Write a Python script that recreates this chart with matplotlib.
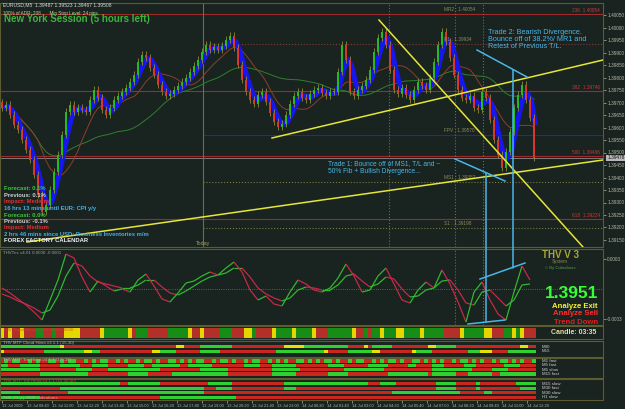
import itertools
import numpy as np
import pandas as pd
import matplotlib
matplotlib.use("Agg")
import matplotlib.pyplot as plt
from matplotlib.collections import LineCollection
from matplotlib.patches import ConnectionPatch

plt.rcParams['font.family'] = ['Liberation Sans', 'DejaVu Sans']

# ---- data (EURUSD, one bar = 20 min of the M5 chart) ----
closes = [1.39678, 1.39690, 1.39650, 1.39610, 1.39590, 1.39550, 1.39510, 1.39470, 1.39410, 1.39330,
          1.39262, 1.39290, 1.39350, 1.39422, 1.39490, 1.39570, 1.39662, 1.39690, 1.39662, 1.39678,
          1.39670, 1.39662, 1.39710, 1.39750, 1.39718, 1.39670, 1.39650, 1.39678, 1.39710, 1.39726,
          1.39742, 1.39758, 1.39782, 1.39810, 1.39862, 1.39890, 1.39878, 1.39838, 1.39810, 1.39770,
          1.39742, 1.39726, 1.39734, 1.39750, 1.39766, 1.39782, 1.39798, 1.39822, 1.39846, 1.39870,
          1.39902, 1.39930, 1.39910, 1.39922, 1.39910, 1.39926, 1.39950, 1.39966, 1.39918, 1.39850,
          1.39790, 1.39742, 1.39710, 1.39694, 1.39730, 1.39742, 1.39702, 1.39658, 1.39622, 1.39602,
          1.39614, 1.39650, 1.39694, 1.39726, 1.39742, 1.39718, 1.39710, 1.39734, 1.39750, 1.39758,
          1.39738, 1.39726, 1.39742, 1.39742, 1.39822, 1.39930, 1.39870, 1.39742, 1.39726, 1.39750,
          1.39766, 1.39790, 1.39830, 1.39902, 1.39958, 1.39982, 1.39930, 1.39830, 1.39750, 1.39734,
          1.39758, 1.39730, 1.39710, 1.39750, 1.39782, 1.39766, 1.39750, 1.39798, 1.39862, 1.39930,
          1.39982, 1.39942, 1.39878, 1.39810, 1.39750, 1.39718, 1.39710, 1.39726, 1.39678, 1.39670,
          1.39742, 1.39718, 1.39630, 1.39550, 1.39490, 1.39438, 1.39502, 1.39582, 1.39678, 1.39730,
          1.39770, 1.39710, 1.39638, 1.39478]
first_open = 1.39700

fib_levels = [("236", 1.40054), ("382", 1.39746), ("500", 1.39486), ("618", 1.39234)]
pivots = [("MR2", 1.40054, None), ("R1", 1.39934, ':'), ("FPV", 1.39570, '-'),
          ("MS1", 1.39382, ':'), ("S1", 1.39198, ':')]
today_bar = 50.25
session_bars = [96.75, 113.25, 120.25]

# trend lines (bar, price)
trend_lines = [((6.25, 1.39142), (150.25, 1.39470)),
               ((67.5, 1.39558), (150.25, 1.39870)),
               ((94.25, 1.40030), (145.25, 1.39122))]

# THV Trix, every second bar, in units of 0.00001
trix_fast = [1, -4, -10, -16, -23, -31, -11, 9, 35, 31, 12, -3, 8, 3, -2, 0, -3, 9, 15, 3,
             -10, -13, -4, 6, 8, 13, 17, 14, 21, 27, 17, -1, -11, -7, -15, -17, -3, 9, 5, -1,
             -3, 1, 11, 25, 13, -3, -1, 13, 21, 5, -11, -14, -1, 7, 1, 19, 5, -13, -33, -3,
             7, -11, -25, -31, -3, 23, 9]
trix_slow = [-5, -8, -12, -15, -19, -24, -21, -7, 13, 26, 23, 13, 7, 5, 3, 1, 1, 4, 9, 9,
             2, -4, -6, -2, 3, 8, 12, 14, 16, 21, 21, 12, 1, -5, -9, -12, -9, -1, 2, 1,
             -1, -1, 4, 13, 15, 8, 2, 5, 12, 10, 0, -8, -7, -1, 1, 8, 9, -1, -14, -16,
             -3, -1, -9, -17, -11, 4, 5]

strip_runs = [("Y", 1), ("R", 1), ("Y", 1), ("R", 2), ("Y", 1), ("R", 3), ("G", 2), ("R", 2), ("G", 1), ("R", 2),
              ("Y", 4), ("R", 5), ("Y", 1), ("G", 6), ("Y", 1), ("R", 1), ("G", 3), ("R", 5), ("G", 5), ("Y", 1),
              ("R", 2), ("Y", 1), ("R", 4), ("G", 3), ("R", 3), ("Y", 2), ("G", 1), ("R", 4), ("Y", 1), ("G", 4),
              ("Y", 1), ("G", 4), ("Y", 1), ("R", 3), ("G", 6), ("Y", 1), ("R", 2), ("G", 1), ("R", 1), ("G", 2),
              ("Y", 1), ("G", 3), ("Y", 2), ("G", 4), ("Y", 1), ("G", 5), ("R", 4), ("Y", 1), ("G", 5), ("Y", 2),
              ("R", 3), ("G", 2), ("Y", 1), ("G", 1), ("Y", 1), ("R", 3)]

cloud_rows = {
    "M30": [("G", 15), ("Y", 1), ("R", 28), ("Y", 2), ("R", 4), ("G", 8), ("R", 13), ("Y", 5), ("G", 11), ("R", 4),
            ("Y", 1), ("R", 1), ("G", 5), ("R", 9), ("Y", 2), ("G", 5), ("R", 16), ("Y", 2), ("R", 2)],
    "M15": [("Y", 1), ("R", 10), ("G", 10), ("Y", 2), ("G", 2), ("R", 13), ("Y", 2), ("G", 4), ("R", 6), ("G", 5),
            ("R", 14), ("G", 12), ("Y", 1), ("R", 5), ("G", 6), ("Y", 2), ("R", 8), ("Y", 1), ("G", 4), ("R", 9),
            ("G", 3), ("Y", 3), ("R", 4), ("G", 7)],
}

m1_fast = ("RGRGGRRGRG" "RRGGRGRGGR" "RGRGRGGRRG" "RGRRGRGGRG" "RRGGRGRGRG" "GRRGRGGRGR" "RGRGGRRGRG"
           "RGRRGGRGRG" "RGGRGRRGRG" "GRRGRGRGGR" "GRRGGRGRGR" "GRRGRGGRGR" "GRRGRGGRGR" "GRRG")
trix_rows_a = {
    "M1 fast": [(k, len(list(g))) for k, g in itertools.groupby(m1_fast)],
    "M5 fast": [("G", 2), ("R", 3), ("G", 5), ("R", 5), ("G", 5), ("R", 3), ("G", 4), ("R", 5), ("G", 4), ("R", 2),
                ("G", 7), ("R", 2), ("G", 6), ("R", 8), ("G", 4), ("R", 3), ("G", 6), ("R", 8), ("G", 4), ("R", 6),
                ("G", 5), ("R", 5), ("G", 2), ("R", 4), ("G", 3), ("R", 5), ("G", 3), ("R", 7), ("G", 4), ("R", 4)],
    "M5 slow": [("G", 10), ("R", 9), ("G", 4), ("R", 4), ("G", 13), ("R", 10), ("G", 7), ("R", 11), ("G", 7), ("R", 11),
                ("G", 10), ("R", 12), ("G", 10), ("R", 5), ("G", 4), ("R", 7)],
    "M15 fast": [("R", 10), ("G", 12), ("R", 10), ("G", 5), ("R", 6), ("G", 14), ("R", 11), ("G", 6), ("R", 8), ("G", 5),
                 ("R", 10), ("G", 10), ("R", 1), ("G", 6), ("R", 3), ("G", 6), ("R", 2), ("G", 9)],
}
trix_rows_b = {
    "M15 slow": [("G", 30), ("R", 2), ("G", 8), ("R", 12), ("G", 6), ("R", 13), ("G", 21), ("R", 3), ("G", 4), ("R", 10),
                 ("G", 5), ("R", 5), ("G", 1), ("R", 9), ("G", 5)],
    "M30 fast": [("R", 15), ("G", 36), ("R", 3), ("G", 4), ("R", 13), ("G", 3), ("R", 35), ("G", 5), ("R", 5), ("G", 1),
                 ("R", 10), ("G", 4)],
    "M30 slow": [("G", 5), ("R", 12), ("G", 34), ("R", 47), ("G", 17), ("R", 6), ("G", 2), ("R", 11)],
    "H1 slow": [("G", 10), ("R", 30), ("G", 19), ("R", 75)],
}

time_labels = ["13 Jul 2009", "13 Jul 09:40", "13 Jul 11:00", "13 Jul 12:20", "13 Jul 13:40", "13 Jul 15:00",
               "13 Jul 16:20", "13 Jul 17:40", "13 Jul 19:00", "13 Jul 20:20", "13 Jul 21:40", "13 Jul 23:00",
               "14 Jul 00:20", "14 Jul 01:40", "14 Jul 03:00", "14 Jul 04:20", "14 Jul 05:40", "14 Jul 07:00",
               "14 Jul 08:20", "14 Jul 09:40", "14 Jul 11:00", "14 Jul 12:20"]
bars_per_label = 6.25

# ---- styling ----
BG = '#19231f'
FRAME = '#5c5c30'
W, H = 625, 409
XLIM = (-0.5, 150.25)


def fx(px):
    return px / W


def fy(py):
    return 1 - py / H


def panel(top, bottom):
    ax = fig.add_axes([0, fy(bottom), 603 / W, (bottom - top) / H])
    ax.set_facecolor(BG)
    for s in ax.spines.values():
        s.set_color(FRAME)
        s.set_linewidth(0.8)
    ax.set_xlim(*XLIM)
    ax.tick_params(axis='x', bottom=False, labelbottom=False)
    ax.yaxis.tick_right()
    ax.tick_params(axis='y', colors='#b8b8a8', labelsize=3.4, length=2, width=0.5, pad=1)
    return ax


def draw_runs(ax, runs, y0, h, palette):
    start = 0
    for code, n in runs:
        ax.broken_barh([(start - 0.5, n)], (y0, h), facecolors=palette[code], edgecolor='none')
        start += n


fig = plt.figure(figsize=(6.25, 4.09), dpi=100, facecolor=BG)

# ---- main price panel ----
ax = panel(3, 247)
ax.set_ylim(1.39122, 1.40098)
n = len(closes)
x = np.arange(n)
c = np.array(closes)
o = np.array([first_open] + closes[:-1])
s = pd.Series(c)
ax.plot(x, s.rolling(30, min_periods=1).mean(), color='#2f7f2f', lw=0.7, zorder=2)
ax.plot(x, s.rolling(10, min_periods=1).mean(), color='#8f3d2e', lw=0.7, zorder=2)
ax.plot(x + 0.4, s.rolling(3, min_periods=1).mean(), color='#1616f0', lw=3.6, zorder=3,
        solid_capstyle='butt')
lo = np.minimum(o, c)
hi = np.maximum(o, c)
ax.vlines(x, lo - 0.00012, hi + 0.00014, color='#8a8a3c', lw=0.6, zorder=4)
up = c >= o
ax.bar(x, np.maximum(hi - lo, 0.00003), bottom=lo, width=0.62,
       color=np.where(up, '#22bb22', '#d8382a'), zorder=5)

for name, lvl in fib_levels:
    ax.axhline(lvl, color='#a02a2a', lw=0.8, zorder=1)
    ax.text(149.5, lvl + 0.00004, f"{name}  {lvl:.5f}", color='#c83a3a', fontsize=3.4,
            ha='right', va='bottom', zorder=6)
for name, lvl, ls in pivots:
    if ls:
        col = '#2525a8' if name == "FPV" else ('#8a3a3a' if name == "R1" else '#7a7a40')
        ax.hlines(lvl, today_bar, XLIM[1], colors=col, linestyles=ls, lw=0.8, zorder=1)
    ax.text(110.5, lvl + 0.00006, f"{name} : {lvl:.5f}", color='#8c8c5c', fontsize=3.4,
            ha='left', va='bottom', zorder=6)
ax.axhline(c[-1], color='#8a8a8a', lw=0.6, zorder=1)
ax.annotate(f"{c[-1]:.5f}", xy=(1.0, c[-1]), xycoords=('axes fraction', 'data'),
            xytext=(3, 0), textcoords='offset points', fontsize=3.4, va='center', ha='left',
            color='#101010', bbox=dict(boxstyle='square,pad=0.15', fc='#b8b8b8', ec='none'),
            annotation_clip=False)

ax.axvline(today_bar, color='#6e6e4a', lw=0.8, zorder=1)
for b in session_bars:
    ax.axvline(b, color='#5a6a98', lw=0.8, ls=':', zorder=1)
for (xa, ya), (xb, yb) in trend_lines:
    ax.plot([xa, xb], [ya, yb], color='#e6e63a', lw=1.1, zorder=7)

ticks = np.arange(1.3915, 1.40051, 0.0005)
ax.set_yticks(ticks)
ax.set_yticklabels([f"{t:.5f}" for t in ticks])

# ---- oscillator panel ----
ax2 = panel(249, 325)
ax2.set_ylim(-36, 40)
ax2.axhline(0, color='#6a7878', lw=0.6, ls=':')
for b in session_bars[1:]:
    ax2.axvline(b, color='#5a6a98', lw=0.8, ls=':')
xo = np.arange(len(trix_fast)) * 2
for vals in (trix_slow, trix_fast):
    v = np.array(vals)
    segs = [[(xo[i], v[i]), (xo[i + 1], v[i + 1])] for i in range(len(v) - 1)]
    cols = ['#30b830' if v[i + 1] >= v[i] else '#c42a4a' for i in range(len(v) - 1)]
    ax2.add_collection(LineCollection(segs, colors=cols, linewidths=0.9))
ax2.set_yticks([30, -30])
ax2.set_yticklabels(["0.0003", "-0.0003"])

# ---- colour strip & MTF panels ----
strip_pal = {"R": '#b3302a', "G": '#178c17', "Y": '#e6d600'}
row_pal = {"R": '#c8261e', "G": '#2fd02f', "Y": '#e8e000'}

ax3 = panel(326, 339)
ax3.set_ylim(13, 0)
draw_runs(ax3, strip_runs, 1.5, 10.5, strip_pal)
ax3.set_yticks([])

ax4 = panel(341, 357)
ax4.set_ylim(16, 0)
ax4.set_yticks([])
ax5 = panel(358, 378)
ax5.set_ylim(20, 0)
ax5.set_yticks([])
ax6 = panel(379, 400)
ax6.set_ylim(21, 0)
ax6.set_yticks([])

for axp, rows, offs in ((ax4, cloud_rows, [4.0, 8.5]),
                        (ax5, trix_rows_a, [1.2, 5.6, 10.0, 14.4]),
                        (ax6, trix_rows_b, [3.0, 7.5, 12.0, 16.5])):
    for (label, runs), y0 in zip(rows.items(), offs):
        draw_runs(axp, runs, y0, 3.4, row_pal)
        axp.text(135, y0 + 1.7, label, color='#d0d0d0', fontsize=3.2, va='center', ha='left')

ax6.tick_params(axis='x', bottom=True, labelbottom=True, colors='#b0b0b0', labelsize=2.9,
                length=2, width=0.5, pad=1)
ax6.set_xticks(np.arange(len(time_labels)) * bars_per_label)
ax6.set_xticklabels(time_labels)
for lab in ax6.get_xticklabels():
    lab.set_ha('left')

# ---- annotations drawn on the chart ----
TRADE = '#4ab6e8'
ax.plot([118.75, 131.25], [1.39910, 1.39802], color=TRADE, lw=1.1, zorder=8)
ax.plot([113.25, 125.75], [1.39474, 1.39386], color=TRADE, lw=1.1, zorder=8)
ax2.plot([119.5, 130.75], [10, 26], color=TRADE, lw=1.1)
ax2.plot([116.5, 125.75], [-35, -31], color=TRADE, lw=1.1)
for xb, pa, ob in ((127.75, 1.39830, 21), (121.0, 1.39418, -33)):
    fig.add_artist(ConnectionPatch(xyA=(xb, pa), coordsA='data', axesA=ax,
                                   xyB=(xb, ob), coordsB='data', axesB=ax2,
                                   color=TRADE, lw=1.1, zorder=9))

# ---- texts ----
def t(px, py, s, **kw):
    fig.text(fx(px), fy(py), s, va='center', **kw)


t(3, 5, "EURUSD,M5  1.39487 1.39523 1.39467 1.39508", color='#d8d8d8', fontsize=3.6)
t(3, 13, "100% of ADR: 208       Min Stop Level: 24 pips", color='#c8c8a8', fontsize=3.3)
t(4, 19, "New York Session (5 hours left)", color='#3cb43c', fontsize=7, fontweight='bold')

news = [("Forecast: 0.1%", '#3cc83c'), ("Previous: 0.1%", '#d0d0d0'), ("Impact: Medium", '#e03030'),
        ("16 hrs 13 mins until EUR: CPI y/y", '#46aee8'), ("Forecast: 0.0%", '#3cc83c'),
        ("Previous: -0.1%", '#d0d0d0'), ("Impact: Medium", '#e03030'),
        ("2 hrs 46 mins since USD: Business Inventories m/m", '#46aee8'),
        ("FOREX FACTORY CALENDAR", '#f0f0f0')]
for i, (line, col) in enumerate(news):
    t(4, 189 + i * 6.5, line, color=col, fontsize=4.2, fontweight='bold')

t(196, 243, "Today", color='#a0a060', fontsize=3.8)
for i, line in enumerate(["Trade 2: Bearish Divergence.", "Bounce off of 38.2%/ MR1 and",
                          "Retest of Previous T/L."]):
    t(488, 32 + i * 7.5, line, color=TRADE, fontsize=5.2)
for i, line in enumerate(["Trade 1: Bounce off of MS1, T/L and ~", "50% Fib + Bullish Divergence..."]):
    t(328, 164 + i * 7.5, line, color=TRADE, fontsize=4.8)

t(3, 253, "THVTrix v4.01 0.0000 -0.0001", color='#a0a0a0', fontsize=3.2)
t(3, 330, "THV Trend Hima v3.0 0.0000 0.0000", color='#d04040', fontsize=3.2, alpha=0.8)
t(3, 343, "THV MTF Cloud Hima v3.1.1 (15,30)", color='#b0b0b0', fontsize=3.2)
t(3, 359.5, "THV MTF Trix Hima v3.1.1 (1,5,15)", color='#b0b0b0', fontsize=3.2)
t(3, 381, "THV MTF Trix Hima v3.1.1 (15,30,60)", color='#d04040', fontsize=3.2)
t(3, 398.5, "THV V3 (c) 2009 Cobraforex", color='#b0b0b0', fontsize=3.2)

t(560, 255, "THV V 3", color='#a8a838', fontsize=7, fontweight='bold', ha='center')
t(560, 262, "System", color='#8a8a50', fontsize=3.4, ha='center')
t(560, 268, "\u00a9 By Cobraforex", color='#50a850', fontsize=3.0, ha='center')
t(598, 293, "1.3951", color='#36ff36', fontsize=12.5, fontweight='bold', ha='right')
t(598, 306, "Analyze Exit", color='#f2f23a', fontsize=5.6, fontweight='bold', ha='right')
t(598, 313.5, "Analyze Sell", color='#ff2e2e', fontsize=5.6, fontweight='bold', ha='right')
t(598, 322, "Trend Down", color='#e02020', fontsize=5.6, fontweight='bold', ha='right')
t(596, 332, "Candle: 03:35", color='#e8dca0', fontsize=5, fontweight='bold', ha='right')

fig.savefig("out.png", dpi=100, facecolor=BG)
